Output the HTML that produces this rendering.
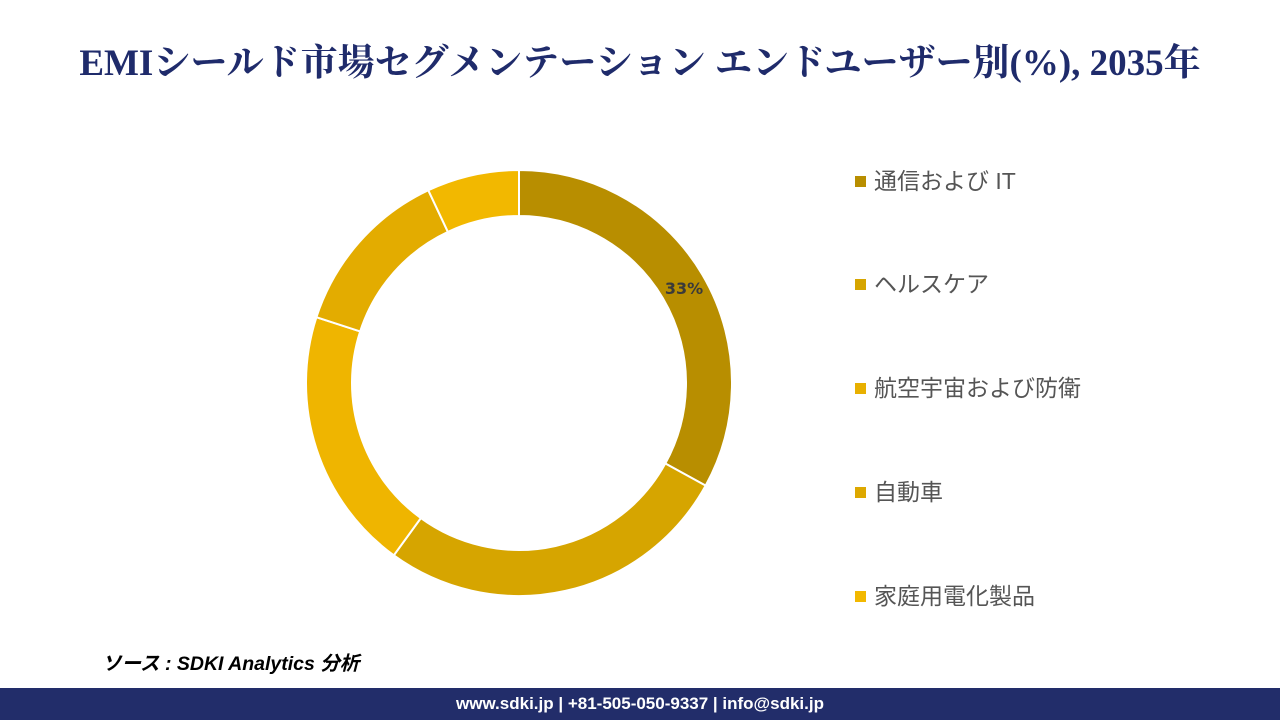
<!DOCTYPE html>
<html><head><meta charset="utf-8"><style>
body{margin:0;width:1280px;height:720px;background:#fff;position:relative;overflow:hidden;font-family:"Liberation Sans","Noto Sans CJK JP",sans-serif}
.title{position:absolute;top:32px;left:0;width:1280px;text-align:center;font-family:"Liberation Serif","Noto Serif CJK SC",serif;font-size:37px;color:#1f2b6b;font-weight:bold;letter-spacing:0px}
.leg{position:absolute;left:855px;font-size:23px;color:#555;font-family:"Liberation Sans","Noto Sans CJK JP",sans-serif}
.leg i{display:inline-block;width:11px;height:11px;margin-right:8px;vertical-align:2px}
.src{position:absolute;left:102px;top:647px;font-size:19.5px;font-style:italic;font-weight:bold;color:#000}
.foot{position:absolute;left:0;top:688px;width:1280px;height:32px;background:#222d6a;color:#fff;font-weight:bold;font-size:17px;text-align:center;line-height:32px}
</style></head><body>
<div class="title">EMIシールド市場セグメンテーション エンドユーザー別(%), 2035年</div>
<svg width="1280" height="720" style="position:absolute;left:0;top:0" id="s"></svg>
<div class="leg" style="top:162px"><i style="background:#B88E00"></i>通信および IT</div>
<div class="leg" style="top:265px"><i style="background:#D6A500"></i>ヘルスケア</div>
<div class="leg" style="top:369px"><i style="background:#E8B000"></i>航空宇宙および防衛</div>
<div class="leg" style="top:473px"><i style="background:#DDA800"></i>自動車</div>
<div class="leg" style="top:577px"><i style="background:#F2B800"></i>家庭用電化製品</div>
<div class="src">ソース : SDKI Analytics 分析</div>
<div class="foot">www.sdki.jp | +81-505-050-9337 | info@sdki.jp</div>
<script>
var cx=519,cy=383,R=213,r=167,vals=[33,27,20,13,7],cols=["#B88E00","#D6A500","#EFB500","#E3AC00","#F2B800"];
var s="",a=0;
function p(rad,ang){return [cx+rad*Math.sin(ang),cy-rad*Math.cos(ang)];}
for(var i=0;i<5;i++){var a0=a/100*2*Math.PI;a+=vals[i];var a1=a/100*2*Math.PI;var L=(a1-a0)>Math.PI?1:0;
var o0=p(R,a0),o1=p(R,a1),i1=p(r,a1),i0=p(r,a0);
s+='<path d="M'+o0+' A'+R+' '+R+' 0 '+L+' 1 '+o1+' L'+i1+' A'+r+' '+r+' 0 '+L+' 0 '+i0+'Z" fill="'+cols[i]+'" stroke="#fff" stroke-width="2"/>';}
s+='<text x="684" y="294" font-size="16" font-weight="bold" fill="#3a3a3a" text-anchor="middle" font-family="DejaVu Sans, sans-serif">33%</text>';
document.getElementById('s').innerHTML=s;
</script>
</body></html>
